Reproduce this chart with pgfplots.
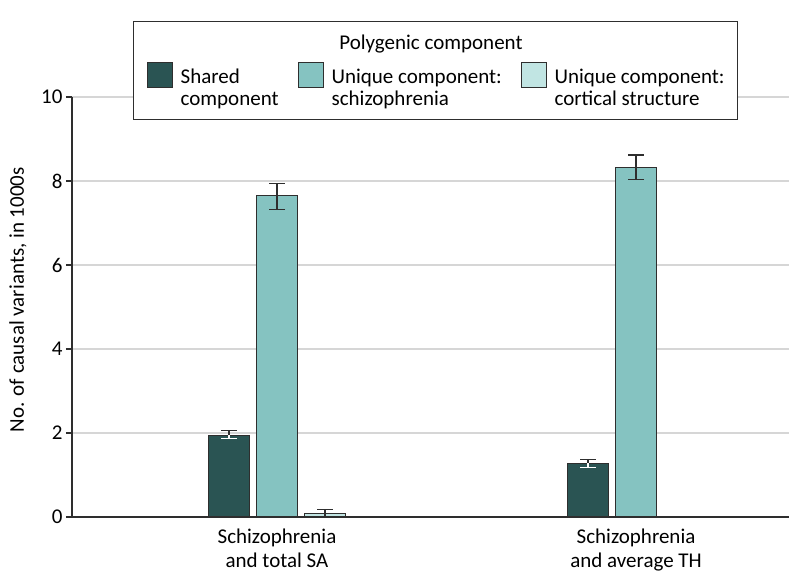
\documentclass[border=0pt]{standalone}
\usepackage{pgfplots}
\pgfplotsset{compat=1.18}
\usepackage{fontspec}
\setmainfont{Carlito}

\definecolor{cShared}{HTML}{2A5453}
\definecolor{cSchizo}{HTML}{85C3C1}
\definecolor{cCort}{HTML}{C1E5E3}
\definecolor{cEdge}{HTML}{2E2E2E}
\definecolor{cGrid}{HTML}{D6D6D6}

\pgfplotsset{
  sq legend/.style={legend image code/.code={
      \draw[##1, line width=1pt] (0pt,-10pt) rectangle (25pt,15pt);
      \path (0pt,45pt) (0pt,-32pt);}},
  barbase/.style={ybar, bar width=0.1156, bar shift=0, draw=cEdge, line width=1pt},
  ebar/.style={error bars/.cd, y dir=#1, y explicit,
    error bar style={line width=1.2pt, color=cEdge},
    error mark options={line width=1.2pt, mark size=8pt, rotate=90, color=cEdge}},
  wbar/.style={error bars/.cd, y dir=#1, y explicit,
    error bar style={line width=1.2pt, color=white},
    error mark options={line width=1.2pt, mark size=8pt, rotate=90, color=white}},
}

\begin{document}
\begin{tikzpicture}[font=\fontsize{21}{23}\selectfont]
\path[use as bounding box] (-72pt,-71pt) rectangle (722pt,517pt);
\begin{axis}[
  scale only axis, width=717pt, height=420pt,
  xmin=-0.571, xmax=1.426, ymin=0, ymax=10,
  axis lines=left, axis line style={-, cEdge, line width=1.2pt},
  xtick={0,1},
  xticklabels={{Schizophrenia\\and total SA},{Schizophrenia\\and average TH}},
  xticklabel style={align=center, font=\fontsize{21}{24}\selectfont, yshift=-2pt},
  major x tick style={draw=none},
  ytick={0,2,...,10},
  tick align=outside, major tick length=6pt,
  major y tick style={cEdge, line width=1.2pt},
  ymajorgrids, grid style={cGrid, line width=1.6pt},
  /pgf/number format/assume math mode=true,
  ylabel={No. of causal variants, in 1000s},
  every axis y label/.style={at={(axis description cs:-0.0753,0.517)}, rotate=90, anchor=center},
  legend columns=3, legend cell align=left,
  legend style={at={(axis description cs:0.0851,1.181)}, anchor=north west,
    draw=cEdge, line width=1.2pt, fill=white,
    inner xsep=13pt, inner ysep=10pt,
    nodes={inner sep=0pt},
    font=\fontsize{21}{22}\selectfont,
    /tikz/column sep=0pt,
    /tikz/every odd column/.append style={column sep=8pt}},
  clip=false,
]
% shared component (bars at group centre - 0.1337)
\addplot[barbase, fill=cShared, sq legend, wbar=minus]
  coordinates {(-0.1337,1.95) -= (0,0.09) (0.8663,1.28) -= (0,0.10)};
\addlegendentry{\parbox[t]{117pt}{\raggedright Shared\\component}}
% unique component: schizophrenia
\addplot[barbase, fill=cSchizo, sq legend, ebar=both]
  coordinates {(0,7.65) += (0,0.29) -= (0,0.32) (1,8.33) += (0,0.29) -= (0,0.29)};
\addlegendentry{\parbox[t]{189pt}{\raggedright Unique component:\\schizophrenia}}
% unique component: cortical structure
\addplot[barbase, fill=cCort, sq legend, ebar=both]
  coordinates {(0.1337,0.09) += (0,0.08) -= (0,0.07)};
\addlegendentry{\parbox[t]{170pt}{\raggedright Unique component:\\cortical structure}}
% upper half of the shared error bars, drawn dark
\addplot[barbase, draw=none, fill=none, forget plot, ebar=plus]
  coordinates {(-0.1337,1.95) += (0,0.10) (0.8663,1.28) += (0,0.08)};
\end{axis}
\node[anchor=base] at (359pt,467pt) {Polygenic component};
\end{tikzpicture}
\end{document}
